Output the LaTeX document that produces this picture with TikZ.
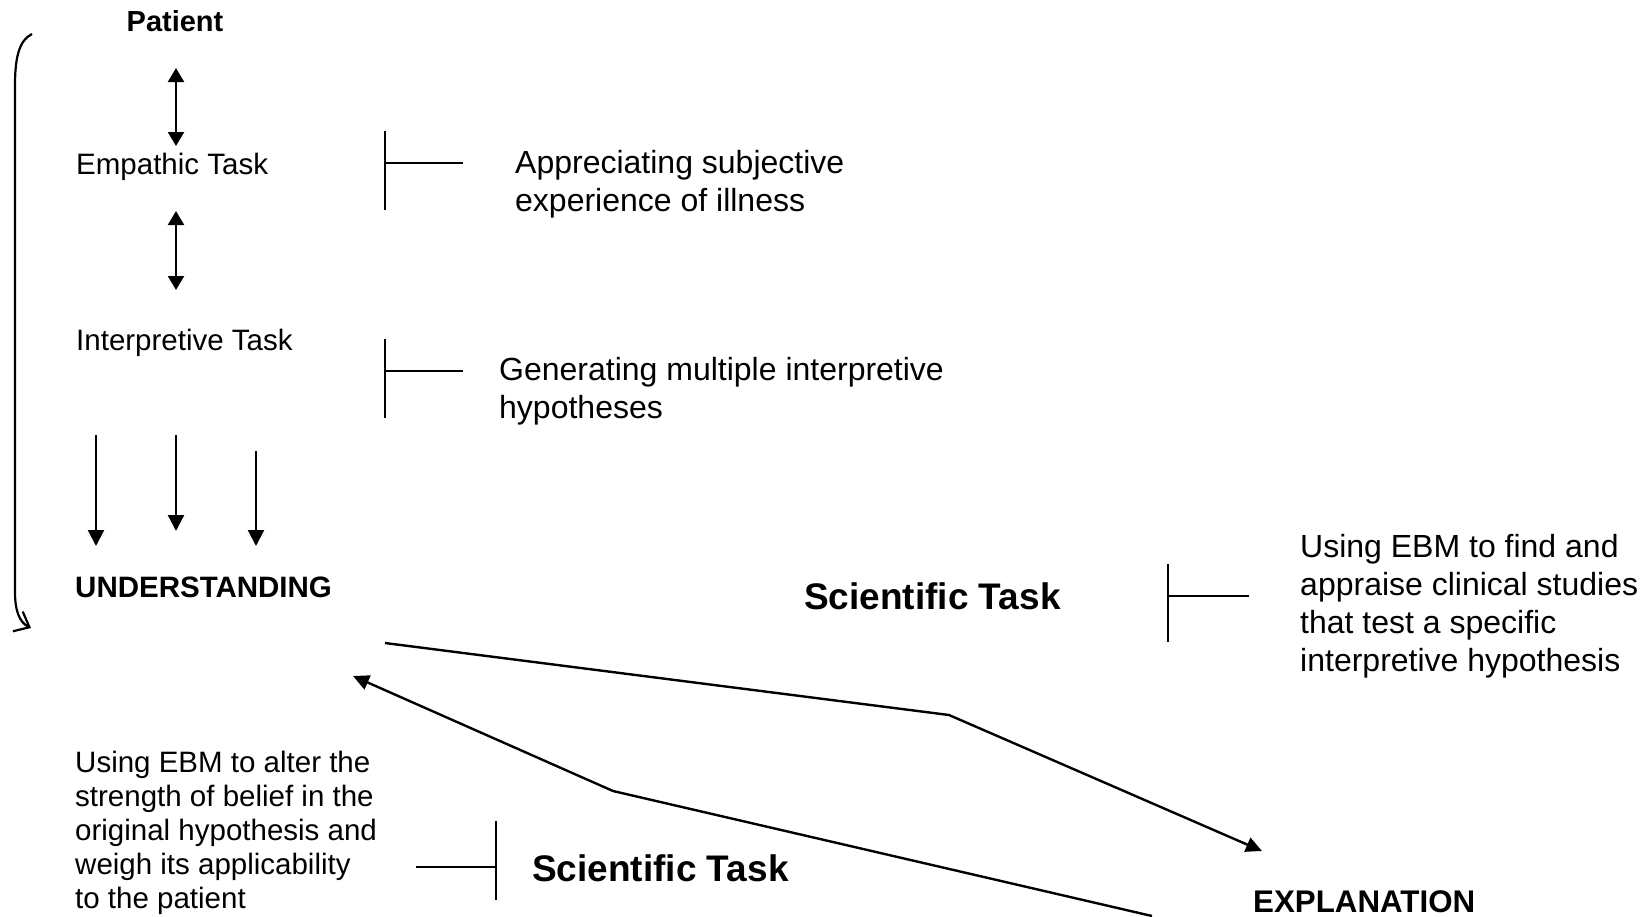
\documentclass[tikz,border=0pt]{standalone}
\usepackage{fontspec}
\setmainfont{Liberation Sans}
\usetikzlibrary{arrows.meta}
\begin{document}
\begin{tikzpicture}[x=1pt,y=-1pt,
  lefttxt/.style={inner sep=0pt, anchor=base west, font=\fontsize{29.5}{35}\selectfont},
  leftbold/.style={inner sep=0pt, font=\fontsize{29}{34.5}\selectfont\bfseries},
  righttxt/.style={inner sep=0pt, anchor=north west, align=left, font=\fontsize{32}{38}\selectfont},
  lefttxtblock/.style={inner sep=0pt, anchor=north west, align=left, font=\fontsize{29.5}{34}\selectfont},
  scitxt/.style={inner sep=0pt, anchor=base west, font=\fontsize{37}{40}\selectfont\bfseries},
  dblarrow/.style={line width=2.2pt, {Triangle[length=14pt,width=16pt]}-{Triangle[length=14pt,width=16pt]}},
  downarrow/.style={line width=2.2pt, -{Triangle[length=16pt,width=16pt]}},
  tickline/.style={line width=2.8pt},
  flow/.style={line width=2.4pt, -{Triangle[length=16pt,width=15pt]}},
  bracket/.style={line width=2.2pt, -{Straight Barb[length=13pt,width=22pt]}}
]
\useasboundingbox (0,0) rectangle (1648,916);

% texts
\node[leftbold, anchor=base] (patient) at (175,31) {Patient};
\node[lefttxt] (empathic) at (76,174.5) {Empathic Task};
\node[lefttxt] (interp) at (76,350) {Interpretive Task};
\node[leftbold, anchor=base west, font=\fontsize{29.5}{34}\selectfont\bfseries] (underst) at (75,597) {UNDERSTANDING};
\node[righttxt] (appr) at (515,150.5) {Appreciating subjective\\experience of illness};
\node[righttxt] (gen) at (499,357.5) {Generating multiple interpretive\\hypotheses};
\node[scitxt] (sci1) at (804,609) {Scientific Task};
\node[righttxt] (findtxt) at (1300,534) {Using EBM to find and\\appraise clinical studies\\that test a specific\\interpretive hypothesis};
\node[scitxt] (sci2) at (532,881) {Scientific Task};
\node[leftbold, anchor=base west, font=\fontsize{31.3}{36}\selectfont\bfseries] (expl) at (1253,912) {EXPLANATION};
\node[lefttxtblock] (altertxt) at (75,751) {Using EBM to alter the\\strength of belief in the\\original hypothesis and\\weigh its applicability\\to the patient};

% coordinates for arrow ends
\coordinate (p1) at (176,68);
\coordinate (e1) at (176,146);
\coordinate (e2) at (176,211);
\coordinate (i1) at (176,290);
\coordinate (d1s) at (96,435);
\coordinate (d1e) at (96,546);
\coordinate (d2s) at (176,435);
\coordinate (d2e) at (176,531);
\coordinate (d3s) at (256,451);
\coordinate (d3e) at (256,546);

\draw[dblarrow] (p1) -- (e1);
\draw[dblarrow] (e2) -- (i1);
\draw[downarrow] (d1s) -- (d1e);
\draw[downarrow] (d2s) -- (d2e);
\draw[downarrow] (d3s) -- (d3e);

% tick marks
\coordinate (t1) at (385,163);
\coordinate (t1e) at (463,163);
\draw[tickline] (385,131) -- (385,210);
\draw[tickline] (t1) -- (t1e);
\coordinate (t2) at (385,371);
\coordinate (t2e) at (463,371);
\draw[tickline] (385,339) -- (385,418);
\draw[tickline] (t2) -- (t2e);
\coordinate (t3) at (1168,596);
\coordinate (t3e) at (1249,596);
\draw[tickline] (1168,564) -- (1168,642);
\draw[tickline] (t3) -- (t3e);
\coordinate (t4) at (496,867);
\coordinate (t4e) at (416,867);
\draw[tickline] (496,821) -- (496,900);
\draw[tickline] (t4) -- (t4e);

% main flow lines
\coordinate (uOut) at (385,643);
\coordinate (eIn) at (1262,851);
\coordinate (eOut) at (1152,916);
\coordinate (uIn) at (353,676);
\draw[flow] (uOut) -- (949,715) -- (eIn);
\draw[flow] (eOut) -- (613,791) -- (uIn);

% left bracket
\draw[bracket] (32,34) .. controls (20,40) and (15,55) .. (15,85) -- (15,592) .. controls (15,610) and (19,622) .. (31,628);
\end{tikzpicture}
\end{document}
